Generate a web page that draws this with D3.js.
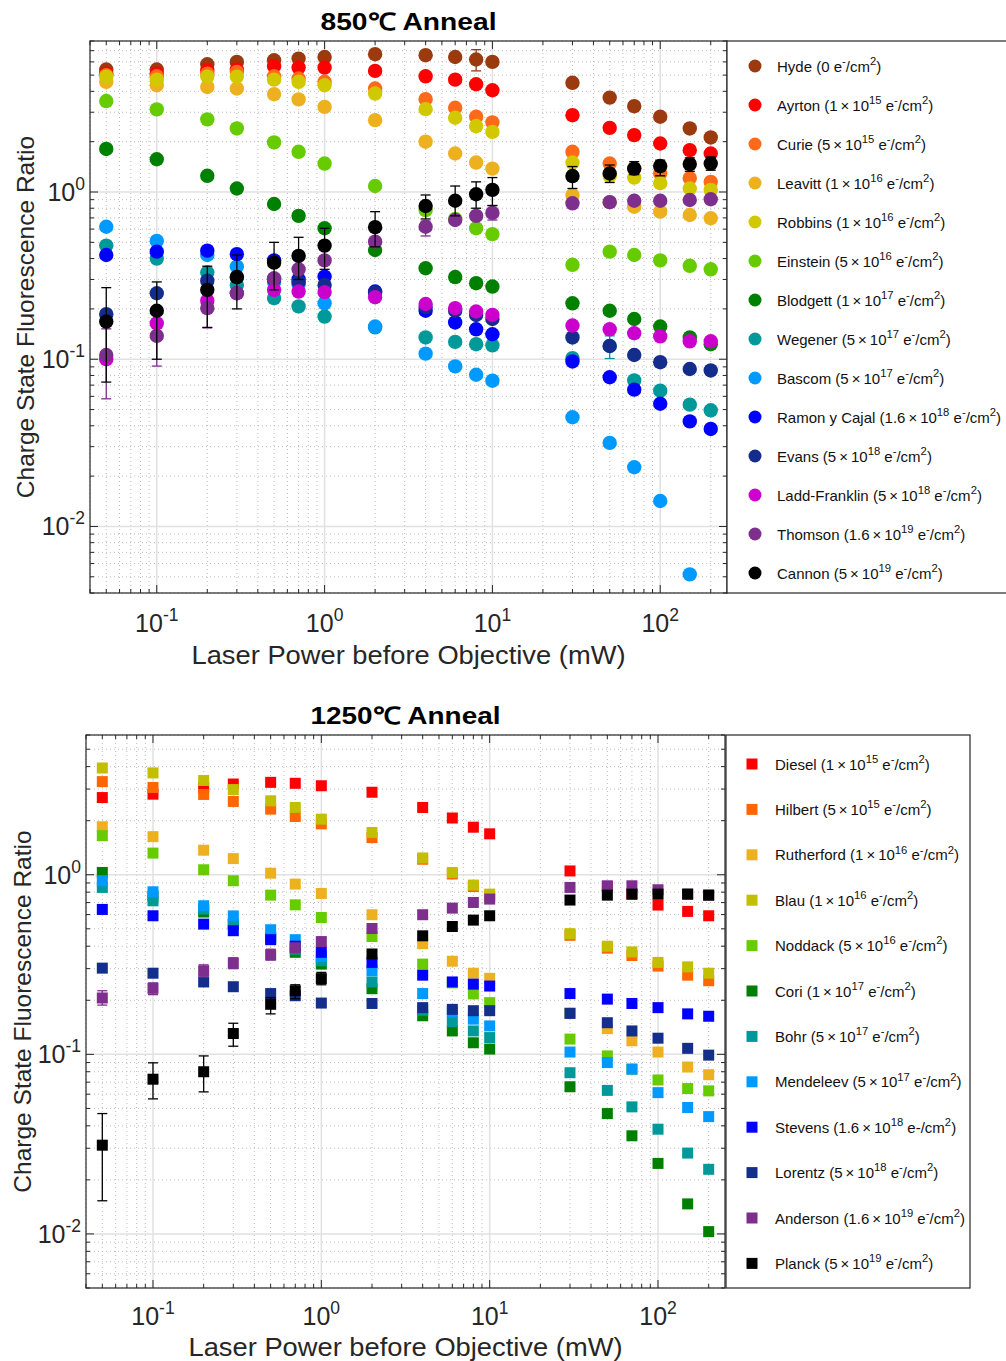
<!DOCTYPE html>
<html><head><meta charset="utf-8">
<script src="https://cdn.jsdelivr.net/npm/d3@7"></script>
<style>
body{margin:0;background:#fff}
svg{display:block}
text{font-family:"Liberation Sans",Arial,Helvetica,sans-serif}
</style>
</head><body>
<svg id="c" width="1006" height="1361"></svg>
<script>
// Laser power levels (mW), shared by both anneal sets
const power = [0.05,0.1,0.2,0.3,0.5,0.7,1,2,4,6,8,10,30,50,70,100,150,200];

// ---- 850 °C anneal: charge state fluorescence ratio ----
const hyde      = [5.4,5.4,5.81,6.0,6.14,6.28,6.42,6.67,6.58,6.42,6.2,6.0,4.5,3.67,3.26,2.82,2.4,2.12];
const ayrton    = [5.1,5.1,5.35,5.4,5.65,5.55,5.55,5.3,4.92,4.7,4.41,4.06,2.88,2.42,2.19,1.95,1.78,1.70];
const curie     = [5.0,4.92,5.1,5.23,4.92,4.77,4.56,4.16,3.59,3.19,2.82,2.61,1.74,1.48,1.38,1.29,1.21,1.15];
const leavitt   = [4.56,4.35,4.25,4.16,3.85,3.58,3.23,2.69,2.0,1.70,1.5,1.38,0.96,0.87,0.817,0.763,0.729,0.697];
const robbins   = [4.9,4.7,4.9,4.9,4.7,4.56,4.35,3.88,3.13,2.78,2.48,2.29,1.5,1.25,1.22,1.13,1.05,1.03];
const einstein  = [3.5,3.12,2.72,2.4,1.98,1.74,1.48,1.086,0.78,0.69,0.607,0.56,0.367,0.44,0.42,0.39,0.362,0.345];
const blodgett  = [1.81,1.57,1.25,1.05,0.848,0.72,0.607,0.45,0.35,0.31,0.285,0.272,0.216,0.195,0.174,0.157,0.135,0.123];
const wegener   = [0.478,0.40,0.33,0.278,0.232,0.207,0.18,0.155,0.135,0.127,0.123,0.121,0.1016,0.12,0.0747,0.0649,0.0535,0.0495];
const bascom    = [0.62,0.51,0.42,0.358,0.29,0.28,0.216,0.157,0.108,0.0906,0.0808,0.0744,0.045,0.0316,0.0226,0.0142,0.00517,null];
const ramon     = [0.42,0.44,0.446,0.425,0.39,0.30,0.312,0.254,0.195,0.166,0.151,0.141,0.097,0.078,0.0658,0.0542,0.0425,0.0383];
const evans     = [0.186,0.248,0.295,0.31,0.30,0.29,0.278,0.25,0.205,0.195,0.184,0.174,0.135,0.12,0.106,0.096,0.0874,0.0857];
const laddFr    = [0.1,0.164,0.224,0.248,0.26,0.254,0.252,0.235,0.214,0.202,0.193,0.184,0.159,0.151,0.143,0.137,0.128,0.128];
const thomson   = [0.106,0.138,0.202,0.248,0.305,0.345,0.39,0.505,0.62,0.68,0.72,0.75,0.856,0.87,0.887,0.887,0.896,0.905];
const cannon    = [0.168,0.195,0.26,0.31,0.378,0.415,0.478,0.616,0.825,0.887,0.97,1.03,1.246,1.29,1.38,1.43,1.47,1.48];

// error bar limits (null = no bar drawn)
const hydeLo    = [null,null,null,null,null,null,null,null,null,null,5.3,null,null,null,null,null,null,null];
const hydeHi    = [null,null,null,null,null,null,null,null,null,null,7.1,null,null,null,null,null,null,null];
const wegenerLo = [null,null,null,null,null,null,null,null,null,null,null,null,null,0.101,null,null,null,null];
const wegenerHi = [null,null,null,null,null,null,null,null,null,null,null,null,null,0.138,null,null,null,null];
const thomsonLo = [0.058,0.091,0.154,null,null,null,null,null,0.546,0.64,0.68,0.68,null,null,null,null,null,null];
const thomsonHi = [0.152,0.185,0.25,null,null,null,null,null,0.67,0.72,0.76,0.83,null,null,null,null,null,null];
const cannonLo  = [0.073,0.10,0.155,0.20,0.26,0.30,0.345,0.47,0.69,0.72,0.80,0.83,1.05,1.14,1.27,1.25,1.33,1.35];
const cannonHi  = [0.268,0.29,0.36,0.42,0.50,0.536,0.607,0.763,0.96,1.086,1.15,1.22,1.42,1.45,1.52,1.55,1.60,1.62];

// ---- 1250 °C anneal ----
const diesel     = [2.69,2.81,3.05,3.2,3.27,3.23,3.13,2.88,2.37,2.07,1.84,1.69,1.05,0.86,0.78,0.678,0.625,0.591];
const hilbert    = [3.3,3.06,2.8,2.56,2.32,2.11,1.92,1.61,1.22,1.01,0.86,0.76,0.46,0.39,0.355,0.31,0.276,0.257];
const rutherford = [1.85,1.63,1.37,1.23,1.02,0.887,0.787,0.599,0.413,0.33,0.283,0.265,0.17,0.139,0.119,0.103,0.085,0.077];
const blau       = [3.93,3.69,3.35,2.98,2.58,2.37,2.04,1.72,1.24,1.03,0.876,0.78,0.47,0.40,0.372,0.325,0.307,0.283];
const noddack    = [1.65,1.32,1.066,0.926,0.77,0.68,0.578,0.453,0.318,0.25,0.217,0.194,0.1216,0.098,0.0827,0.072,0.0645,0.0626];
const cori       = [1.03,0.76,0.62,0.53,0.445,0.37,0.318,0.232,0.164,0.135,0.116,0.107,0.066,0.0468,0.0352,0.0247,0.0147,0.0103];
const bohr       = [0.85,0.716,0.644,0.53,0.45,0.385,0.332,0.253,0.176,0.152,0.135,0.124,0.079,0.063,0.051,0.0383,0.0282,0.0229];
const mendeleev  = [0.926,0.804,0.672,0.59,0.494,0.435,0.35,0.292,0.218,0.172,0.157,0.144,0.103,0.09,0.0827,0.0612,0.0506,0.045];
const stevens    = [0.641,0.591,0.531,0.488,0.435,0.40,0.37,0.325,0.276,0.253,0.246,0.24,0.218,0.203,0.192,0.182,0.168,0.163];
const lorentz    = [0.302,0.283,0.253,0.238,0.218,0.212,0.193,0.192,0.182,0.178,0.175,0.175,0.169,0.150,0.135,0.123,0.108,0.099];
const anderson   = [0.206,0.233,0.292,0.322,0.358,0.392,0.424,0.502,0.599,0.652,0.701,0.732,0.85,0.868,0.868,0.825,0.78,0.77];
const planck     = [0.0312,0.0727,0.080,0.1306,0.19,0.226,0.264,0.362,0.457,0.515,0.559,0.591,0.723,0.77,0.78,0.78,0.78,0.77];

const andersonLo = [0.188,0.215,0.27,0.30,0.335,null,0.40,null,null,null,null,null,null,null,null,null,null,null];
const andersonHi = [0.226,0.25,0.315,0.345,0.385,null,0.45,null,null,null,null,null,null,null,null,null,null,null];
const planckLo   = [0.0153,0.0565,0.0618,0.111,0.168,0.204,0.244,null,null,null,null,null,null,null,null,null,null,null];
const planckHi   = [0.0468,0.0897,0.098,0.149,0.207,0.244,0.286,null,null,null,null,null,null,null,null,null,null,null];

// axis tick labels
const xTickLabels = ["10^{-1}","10^{0}","10^{1}","10^{2}"];
const xTickValues = [0.1,1,10,100];
const yTickLabels = ["10^{-2}","10^{-1}","10^{0}"];
const yTickValues = [0.01,0.1,1];

const X = "\u2009×\u2009";
const topSeries = [
  {label:"Hyde (0 e^{-}/cm^{2})", color:"#9b3a0f", v:hyde, lo:hydeLo, hi:hydeHi},
  {label:`Ayrton (1${X}10^{15} e^{-}/cm^{2})`, color:"#ff0000", v:ayrton},
  {label:`Curie (5${X}10^{15} e^{-}/cm^{2})`, color:"#ff6a1a", v:curie},
  {label:`Leavitt (1${X}10^{16} e^{-}/cm^{2})`, color:"#edb120", v:leavitt},
  {label:`Robbins (1${X}10^{16} e^{-}/cm^{2})`, color:"#d2c800", v:robbins},
  {label:`Einstein (5${X}10^{16} e^{-}/cm^{2})`, color:"#66cc00", v:einstein},
  {label:`Blodgett (1${X}10^{17} e^{-}/cm^{2})`, color:"#008000", v:blodgett},
  {label:`Wegener (5${X}10^{17} e^{-}/cm^{2})`, color:"#009999", v:wegener, lo:wegenerLo, hi:wegenerHi},
  {label:`Bascom (5${X}10^{17} e^{-}/cm^{2})`, color:"#0099ff", v:bascom},
  {label:`Ramon y Cajal (1.6${X}10^{18} e^{-}/cm^{2})`, color:"#0000ff", v:ramon},
  {label:`Evans (5${X}10^{18} e^{-}/cm^{2})`, color:"#142c8c", v:evans},
  {label:`Ladd-Franklin (5${X}10^{18} e^{-}/cm^{2})`, color:"#cc00cc", v:laddFr},
  {label:`Thomson (1.6${X}10^{19} e^{-}/cm^{2})`, color:"#7e2f8e", v:thomson, lo:thomsonLo, hi:thomsonHi},
  {label:`Cannon (5${X}10^{19} e^{-}/cm^{2})`, color:"#000000", v:cannon, lo:cannonLo, hi:cannonHi}
];

const bottomSeries = [
  {label:`Diesel (1${X}10^{15} e^{-}/cm^{2})`, color:"#ff0000", v:diesel},
  {label:`Hilbert (5${X}10^{15} e^{-}/cm^{2})`, color:"#ff6600", v:hilbert},
  {label:`Rutherford (1${X}10^{16} e^{-}/cm^{2})`, color:"#edb120", v:rutherford},
  {label:`Blau (1${X}10^{16} e^{-}/cm^{2})`, color:"#c2be00", v:blau},
  {label:`Noddack (5${X}10^{16} e^{-}/cm^{2})`, color:"#66cc00", v:noddack},
  {label:`Cori (1${X}10^{17} e^{-}/cm^{2})`, color:"#008000", v:cori},
  {label:`Bohr (5${X}10^{17} e^{-}/cm^{2})`, color:"#009999", v:bohr},
  {label:`Mendeleev (5${X}10^{17} e^{-}/cm^{2})`, color:"#0099ff", v:mendeleev},
  {label:`Stevens (1.6${X}10^{18} e-/cm^{2})`, color:"#0000ff", v:stevens},
  {label:`Lorentz (5${X}10^{18} e^{-}/cm^{2})`, color:"#142e8c", v:lorentz},
  {label:`Anderson (1.6${X}10^{19} e^{-}/cm^{2})`, color:"#7e2f8e", v:anderson, lo:andersonLo, hi:andersonHi},
  {label:`Planck (5${X}10^{19} e^{-}/cm^{2})`, color:"#000000", v:planck, lo:planckLo, hi:planckHi}
];

const svg = d3.select("#c");
const AX = "#262626";

// writes text with ^{...} parts raised as superscripts
function rich(t, str, fs, supScale){
  const parts = str.split(/(\^\{[^}]*\})/).filter(p => p.length);
  let off = 0;
  parts.forEach(p => {
    if (p.startsWith("^{")) {
      const up = -fs*0.45;
      t.append("tspan").attr("dy", up - off).attr("font-size", fs*(supScale||0.7)).text(p.slice(2,-1));
      off = up;
    } else {
      t.append("tspan").attr("dy", -off).text(p);
      off = 0;
    }
  });
}

function minorValues(lo, hi){
  const out = [];
  for (let e = Math.floor(Math.log10(lo)); e <= Math.ceil(Math.log10(hi)); e++) {
    for (let m = 1; m <= 9; m++) {
      const v = m*Math.pow(10,e);
      if (v >= lo*0.999 && v <= hi*1.001) out.push({v, major: m === 1});
    }
  }
  return out;
}

function panel(cfg){
  const {x0,x1,y0,y1,xdom,ydom,series,marker,title,legend} = cfg;
  const x = d3.scaleLog().domain(xdom).range([x0,x1]);
  const y = d3.scaleLog().domain(ydom).range([y1,y0]);
  const g = svg.append("g");

  const xm = minorValues(xdom[0], xdom[1]);
  const ym = minorValues(ydom[0], ydom[1]);

  // grid: dotted minor, solid light major
  g.append("g").selectAll("line").data(xm.filter(d=>!d.major)).join("line")
    .attr("x1",d=>x(d.v)).attr("x2",d=>x(d.v)).attr("y1",y0).attr("y2",y1)
    .attr("stroke","#bdbdbd").attr("stroke-width",1).attr("stroke-dasharray","1,3");
  g.append("g").selectAll("line").data(ym.filter(d=>!d.major)).join("line")
    .attr("y1",d=>y(d.v)).attr("y2",d=>y(d.v)).attr("x1",x0).attr("x2",x1)
    .attr("stroke","#bdbdbd").attr("stroke-width",1).attr("stroke-dasharray","1,3");
  g.append("g").selectAll("line").data(xm.filter(d=>d.major)).join("line")
    .attr("x1",d=>x(d.v)).attr("x2",d=>x(d.v)).attr("y1",y0).attr("y2",y1)
    .attr("stroke","#e1e1e1").attr("stroke-width",1.5);
  g.append("g").selectAll("line").data(ym.filter(d=>d.major)).join("line")
    .attr("y1",d=>y(d.v)).attr("y2",d=>y(d.v)).attr("x1",x0).attr("x2",x1)
    .attr("stroke","#e1e1e1").attr("stroke-width",1.5);

  // ticks on all four sides, pointing inward
  const tk = g.append("g").attr("stroke",AX).attr("stroke-width",1);
  xm.forEach(d => {
    const L = d.major ? 8 : 4, px = x(d.v);
    tk.append("line").attr("x1",px).attr("x2",px).attr("y1",y1).attr("y2",y1-L);
    tk.append("line").attr("x1",px).attr("x2",px).attr("y1",y0).attr("y2",y0+L);
  });
  ym.forEach(d => {
    const L = d.major ? 8 : 4, py = y(d.v);
    tk.append("line").attr("y1",py).attr("y2",py).attr("x1",x0).attr("x2",x0+L);
    tk.append("line").attr("y1",py).attr("y2",py).attr("x1",x1).attr("x2",x1-L);
  });

  // data: error bars then markers, series in legend order
  series.forEach(s => {
    const sg = g.append("g");
    if (s.lo) {
      const eb = power.map((p,i)=>({p, lo:s.lo[i], hi:s.hi[i]})).filter(d=>d.lo!=null);
      eb.forEach(d => {
        const px = x(d.p);
        sg.append("line").attr("x1",px).attr("x2",px).attr("y1",y(d.lo)).attr("y2",y(d.hi))
          .attr("stroke",s.color).attr("stroke-width",1.3);
        [d.lo,d.hi].forEach(v => sg.append("line").attr("x1",px-5).attr("x2",px+5)
          .attr("y1",y(v)).attr("y2",y(v)).attr("stroke",s.color).attr("stroke-width",1.3));
      });
    }
    const pts = power.map((p,i)=>({p, v:s.v[i]})).filter(d=>d.v!=null);
    if (marker === "circle") {
      sg.selectAll("circle").data(pts).join("circle")
        .attr("cx",d=>x(d.p)).attr("cy",d=>y(d.v)).attr("r",7.2)
        .attr("fill",s.color);
    } else {
      sg.selectAll("rect").data(pts).join("rect")
        .attr("x",d=>x(d.p)-5.5).attr("y",d=>y(d.v)-5.5).attr("width",11).attr("height",11)
        .attr("fill",s.color);
    }
  });

  // frame
  g.append("rect").attr("x",x0).attr("y",y0).attr("width",x1-x0).attr("height",y1-y0)
    .attr("fill","none").attr("stroke",AX).attr("stroke-width",1.2);

  // tick labels
  xTickValues.forEach((v,i) => {
    const t = g.append("text").attr("x",x(v)).attr("y",cfg.xLabelY).attr("text-anchor","middle")
      .attr("font-size",25).attr("fill",AX);
    rich(t, xTickLabels[i], 25);
  });
  yTickValues.forEach((v,i) => {
    const t = g.append("text").attr("x",x0-5).attr("y",y(v)+9).attr("text-anchor","end")
      .attr("font-size",25).attr("fill",AX);
    rich(t, yTickLabels[i], 25);
  });

  // axis titles
  g.append("text").attr("x",(x0+x1)/2).attr("y",cfg.xTitleY).attr("text-anchor","middle")
    .attr("font-size",25).attr("fill",AX)
    .attr("textLength",434).attr("lengthAdjust","spacingAndGlyphs")
    .text("Laser Power before Objective (mW)");
  g.append("text").attr("transform",`translate(${cfg.yTitleX},${(y0+y1)/2}) rotate(-90)`)
    .attr("text-anchor","middle").attr("font-size",24.5).attr("fill",AX)
    .text("Charge State Fluorescence Ratio");
  g.append("text").attr("x",(x0+x1)/2).attr("y",y0-11).attr("text-anchor","middle")
    .attr("font-size",24).attr("font-weight","bold").attr("fill","#000")
    .attr("textLength",cfg.titleW).attr("lengthAdjust","spacingAndGlyphs").text(title);

  // legend
  const lg = svg.append("g");
  lg.append("rect").attr("x",legend.x0).attr("y",y0).attr("width",legend.x1-legend.x0).attr("height",y1-y0)
    .attr("fill","#fff").attr("stroke",AX).attr("stroke-width",1.2);
  series.forEach((s,i) => {
    const cy = legend.top + legend.step*i;
    if (marker === "circle") {
      lg.append("circle").attr("cx",legend.mx).attr("cy",cy).attr("r",6.5).attr("fill",s.color);
    } else {
      lg.append("rect").attr("x",legend.mx-5.5).attr("y",cy-5.5).attr("width",11).attr("height",11).attr("fill",s.color);
    }
    const t = lg.append("text").attr("x",legend.tx).attr("y",cy+5.5).attr("font-size",15).attr("fill","#111");
    rich(t, s.label, 15, 0.75);
  });
}

panel({
  x0:90, x1:727, y0:41, y1:593, xdom:[0.04,250], ydom:[0.004,8],
  series:topSeries, marker:"circle", title:"850℃ Anneal", titleW:176,
  xLabelY:632, xTitleY:664, yTitleX:34,
  legend:{x0:727, x1:1020, mx:755, tx:777, top:66, step:39}
});

panel({
  x0:86, x1:725, y0:735, y1:1288, xdom:[0.04,250], ydom:[0.005,6],
  series:bottomSeries, marker:"square", title:"1250℃ Anneal", titleW:190,
  xLabelY:1325, xTitleY:1356, yTitleX:31,
  legend:{x0:726, x1:970, mx:752, tx:775, top:764, step:45.4}
});
</script>
</body></html>
